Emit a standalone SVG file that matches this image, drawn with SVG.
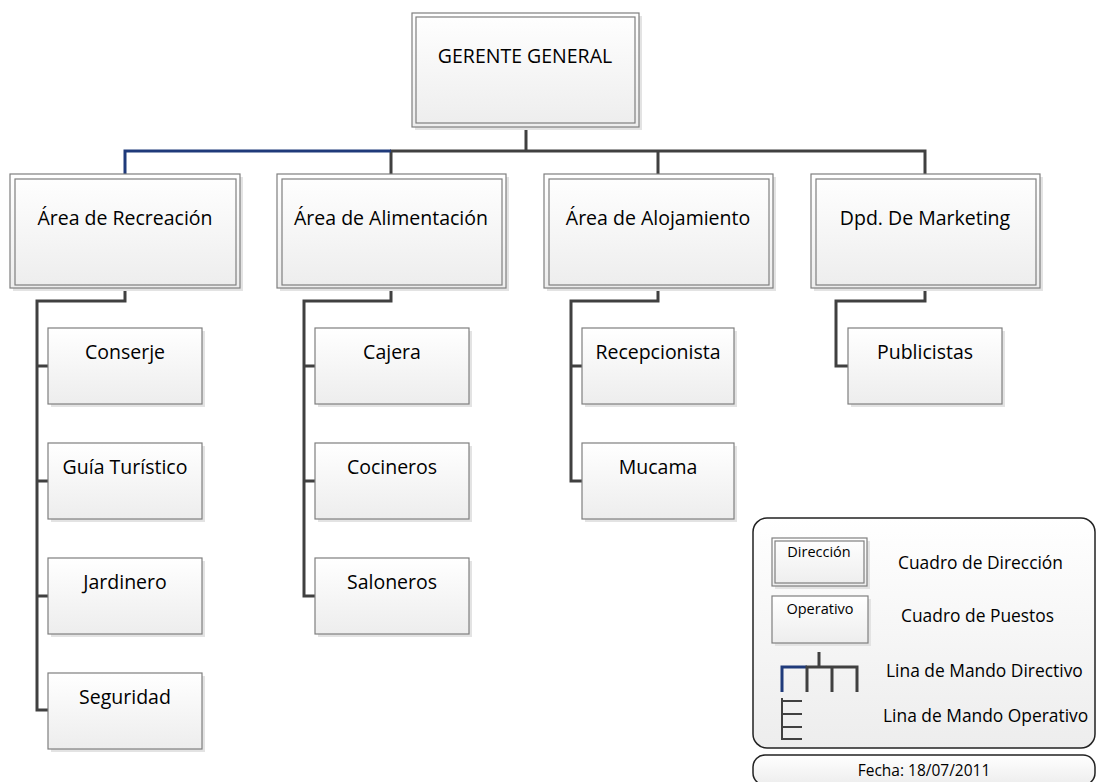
<svg xmlns="http://www.w3.org/2000/svg" width="1096" height="782" viewBox="0 0 1096 782">
<defs>
<linearGradient id="g" x1="0" y1="0" x2="0" y2="1">
<stop offset="0" stop-color="#ffffff"/>
<stop offset="1" stop-color="#ededed"/>
</linearGradient>
<style>
.sh{fill:#e3e3e3;stroke:none}
.box{fill:url(#g);stroke:#7f7f7f;stroke-width:1.2}
.in{fill:none;stroke:#7f7f7f;stroke-width:1.2}
.t{font-family:"Open Sans","Noto Sans",sans-serif;fill:#000;text-anchor:middle}
.t2{font-size:19.5px}
.c{fill:none;stroke:#404040;stroke-width:3}
.cb{fill:none;stroke:#1f3a7a;stroke-width:3}
.lg{font-family:"Open Sans","Noto Sans",sans-serif;fill:#000;font-size:17.4px}
</style>
</defs>
<rect width="1096" height="782" fill="#ffffff"/>

<g id="connectors">
<path class="c" d="M526 127V151M390 151H925V176M391 151V176M658 151V176"/>
<path class="cb" d="M125 176V151H391"/>
<path class="c" d="M125 288V301H37V710H48M37 366H48M37 481H48M37 596H48"/>
<path class="c" d="M391 288V301H304V596H315M304 366H315M304 481H315"/>
<path class="c" d="M658 288V301H571V481H582M571 366H582"/>
<path class="c" d="M925 288V301H836V366H848"/>
</g>

<g id="gerente">
<rect class="sh" x="415" y="16" width="227" height="114"/>
<rect class="box" x="412" y="13" width="227" height="114"/>
<rect class="in" x="416" y="17" width="219" height="106"/>
<text class="t t2" x="525" y="63">GERENTE GENERAL</text>
</g>

<g id="recreacion">
<rect class="sh" x="13" y="177" width="230" height="114"/>
<rect class="box" x="10" y="174" width="230" height="114"/>
<rect class="in" x="15" y="179" width="221" height="106"/>
<text class="t t2" x="125" y="225">Área de Recreación</text>
</g>
<g id="alimentacion">
<rect class="sh" x="280" y="177" width="229" height="114"/>
<rect class="box" x="277" y="174" width="229" height="114"/>
<rect class="in" x="282" y="179" width="220" height="106"/>
<text class="t t2" x="391" y="225">Área de Alimentación</text>
</g>
<g id="alojamiento">
<rect class="sh" x="547" y="177" width="229" height="114"/>
<rect class="box" x="544" y="174" width="229" height="114"/>
<rect class="in" x="549" y="179" width="220" height="106"/>
<text class="t t2" x="658" y="225">Área de Alojamiento</text>
</g>
<g id="marketing">
<rect class="sh" x="814" y="177" width="229" height="114"/>
<rect class="box" x="811" y="174" width="229" height="114"/>
<rect class="in" x="816" y="179" width="220" height="106"/>
<text class="t t2" x="925" y="225">Dpd. De Marketing</text>
</g>

<g id="conserje">
<rect class="sh" x="51" y="331" width="154" height="76"/>
<rect class="box" x="48" y="328" width="154" height="76"/>
<text class="t t2" x="125" y="359">Conserje</text>
</g>
<g id="guia">
<rect class="sh" x="51" y="446" width="154" height="76"/>
<rect class="box" x="48" y="443" width="154" height="76"/>
<text class="t t2" x="125" y="474">Guía Turístico</text>
</g>
<g id="jardinero">
<rect class="sh" x="51" y="561" width="154" height="76"/>
<rect class="box" x="48" y="558" width="154" height="76"/>
<text class="t t2" x="125" y="589">Jardinero</text>
</g>
<g id="seguridad">
<rect class="sh" x="51" y="676" width="154" height="76"/>
<rect class="box" x="48" y="673" width="154" height="76"/>
<text class="t t2" x="125" y="704">Seguridad</text>
</g>

<g id="cajera">
<rect class="sh" x="318" y="331" width="154" height="76"/>
<rect class="box" x="315" y="328" width="154" height="76"/>
<text class="t t2" x="392" y="359">Cajera</text>
</g>
<g id="cocineros">
<rect class="sh" x="318" y="446" width="154" height="76"/>
<rect class="box" x="315" y="443" width="154" height="76"/>
<text class="t t2" x="392" y="474">Cocineros</text>
</g>
<g id="saloneros">
<rect class="sh" x="318" y="561" width="154" height="76"/>
<rect class="box" x="315" y="558" width="154" height="76"/>
<text class="t t2" x="392" y="589">Saloneros</text>
</g>

<g id="recepcionista">
<rect class="sh" x="585" y="331" width="152" height="76"/>
<rect class="box" x="582" y="328" width="152" height="76"/>
<text class="t t2" x="658" y="359">Recepcionista</text>
</g>
<g id="mucama">
<rect class="sh" x="585" y="446" width="152" height="76"/>
<rect class="box" x="582" y="443" width="152" height="76"/>
<text class="t t2" x="658" y="474">Mucama</text>
</g>

<g id="publicistas">
<rect class="sh" x="851" y="331" width="154" height="76"/>
<rect class="box" x="848" y="328" width="154" height="76"/>
<text class="t t2" x="925" y="359">Publicistas</text>
</g>

<g id="legend">
<rect x="753" y="518" width="342" height="230" rx="14" fill="url(#g)" stroke="#222" stroke-width="1.5"/>
<rect class="sh" x="775" y="541" width="95" height="48"/>
<rect class="box" x="772" y="538" width="95" height="48"/>
<rect class="in" x="775" y="541" width="89" height="42"/>
<text class="t" x="819" y="557" font-size="14.5">Dirección</text>
<text class="lg" x="898" y="569">Cuadro de Dirección</text>
<rect class="sh" x="775" y="599" width="96" height="47"/>
<rect class="box" x="772" y="596" width="96" height="47"/>
<text class="t" x="820" y="614" font-size="14.5">Operativo</text>
<text class="lg" x="901" y="622">Cuadro de Puestos</text>
<path class="cb" d="M782 692V667H807"/>
<path class="c" d="M807 692V667H857V692M832 667V692M819 667V652"/>
<text class="lg" x="886" y="677">Lina de Mando Directivo</text>
<path fill="none" stroke="#404040" stroke-width="2" d="M782 698V739H802M782 701H802M782 714H802M782 727H802"/>
<text class="lg" x="883" y="722">Lina de Mando Operativo</text>
</g>
<g id="fecha">
<rect x="753" y="755" width="342" height="30" rx="12" fill="url(#g)" stroke="#222" stroke-width="1.5"/>
<text class="t" x="924" y="776" font-size="15.5">Fecha: 18/07/2011</text>
</g>
</svg>
